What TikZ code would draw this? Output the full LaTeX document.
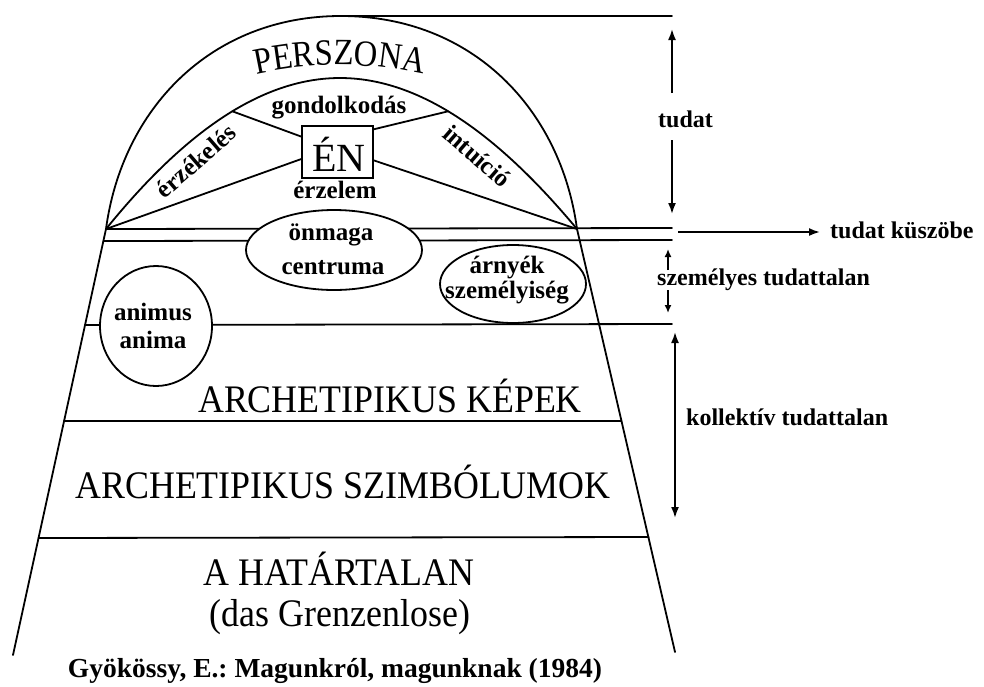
\documentclass[tikz,border=0pt]{standalone}
\usepackage{fontspec}
\setmainfont{Liberation Serif}
\newfontfamily\capfont[FakeStretch=0.92]{Liberation Serif}
\newfontfamily\perfont[FakeStretch=0.88]{Liberation Serif}
\usetikzlibrary{shapes.geometric,arrows.meta,decorations.text,calc}
\frenchspacing
\begin{document}
\begin{tikzpicture}[x=1pt,y=1pt,
  ln/.style={line width=1.8pt, line cap=round, line join=round},
  ell/.style={ellipse, draw, line width=1.8pt, fill=white, inner sep=0pt},
  lab/.style={font=\fontsize{25}{26}\selectfont\bfseries, inner sep=0pt},
  capt/.style={font=\capfont\fontsize{39}{42}\selectfont, inner sep=0pt, anchor=base},
  ann/.style={font=\fontsize{24}{26}\selectfont\bfseries, inner sep=0pt, anchor=base west},
  arr/.style={line width=1.8pt, -{Latex[length=11pt,width=8pt]}},
  sarr/.style={line width=1.8pt, -{Latex[length=8pt,width=7pt]}},
  darr/.style={line width=1.8pt, {Latex[length=11pt,width=8pt]}-{Latex[length=11pt,width=8pt]}}
]
\fill[white] (0,0) rectangle (984,-686);
\useasboundingbox (0,0) rectangle (984,-686);

% key points
\coordinate (L) at (106,-229);
\coordinate (R) at (577,-229);
\coordinate (BL) at (13,-655);
\coordinate (BR) at (675,-652);
\coordinate (apex) at (341,-16);
\coordinate (itop) at (340,-78);
\coordinate (topend) at (672,-16);

% outer arch and trapezoid sides
\draw[ln] (BL) -- (L) .. controls (122,-110) and (210,-16) .. (apex)
  .. controls (473,-16) and (561,-110) .. (R) -- (BR);
\draw[ln] (apex) -- (topend);

% inner arch
\draw[ln] (L) .. controls (170,-150) and (250,-78) .. (itop) coordinate[pos=0.58] (J1);
\draw[ln] (itop) .. controls (430,-78) and (511,-150) .. (R) coordinate[pos=0.42] (J2);

% EN box
\node[draw, line width=1.8pt, minimum width=71pt, minimum height=52pt, inner sep=0pt] (en) at (337.5,-152) {};
\node[font=\fontsize{40}{40}\selectfont, anchor=base, inner sep=0pt] (entext) at (339,-171) {ÉN};
\draw[ln] (J1) -- (en.157);
\draw[ln] (L) -- (en.191);
\draw[ln] (J2) -- (en.32);
\draw[ln] (R) -- (en.347);

% horizontal lines
\coordinate (h1e) at (672,-228);
\coordinate (h2s) at (103.4,-241); \coordinate (h2e) at (672,-240);
\coordinate (h3s) at (85,-325);    \coordinate (h3e) at (672,-324);
\coordinate (h4s) at (64.1,-421);  \coordinate (h4e) at (621.5,-421);
\coordinate (h5s) at (38.5,-538);  \coordinate (h5e) at (648.6,-537);
\draw[ln] (L) -- (h1e);
\draw[ln] (h2s) -- (h2e);
\draw[ln] (h3s) -- (h3e);
\draw[ln] (h4s) -- (h4e);
\draw[ln] (h5s) -- (h5e);

% ellipses
\node[ell, minimum width=176pt, minimum height=80pt] (onm) at (334,-250) {};
\node[lab, anchor=base] (onm1) at (331,-240) {önmaga};
\node[lab, anchor=base] (onm2) at (333,-274) {centruma};

\node[ell, minimum width=146pt, minimum height=78pt] (arny) at (513,-284) {};
\node[lab, anchor=base] (arny1) at (507,-273) {árnyék};
\node[lab, anchor=base] (arny2) at (507,-298) {személyiség};

\node[ell, minimum width=112pt, minimum height=120pt] (anim) at (156,-326) {};
\node[lab, anchor=base] (anim1) at (153,-320) {animus};
\node[lab, anchor=base] (anim2) at (153,-348) {anima};

% labels in the arch
\node[lab, anchor=base] (gond) at (339,-113) {gondolkodás};
\node[lab, anchor=base] (erzl) at (335,-198) {érzelem};
\node[lab, rotate=41] (erzk) at (196,-161) {érzékelés};
\node[lab, rotate=-41] (intu) at (477,-156) {intuíció};

% PERSZONA along arc
\path[decorate, decoration={text along path, text={|\perfont\fontsize{37}{37}\selectfont|PERSZONA}, text align=center}]
  (340,-449) ++(115:384) arc[start angle=115, end angle=65, radius=384];

% capitals
\node[capt] (c1) at (390,-412) {ARCHETIPIKUS KÉPEK};
\node[capt] (c2) at (343,-498) {ARCHETIPIKUS SZIMBÓLUMOK};
\node[capt] (c3) at (339,-585) {A HATÁRTALAN};
\node[capt] (c4) at (340,-626) {(das Grenzenlose)};
\node[font=\fontsize{27.5}{28}\selectfont\bfseries, anchor=base, inner sep=0pt] (cit) at (335,-677) {Gyökössy, E.: Magunkról, magunknak (1984)};

% right annotations
\node[ann] (tudat) at (658,-127) {tudat};
\coordinate (ta1) at (672,-93);  \coordinate (ta1t) at (672,-29);
\coordinate (ta2) at (672,-140); \coordinate (ta2t) at (672,-214);
\draw[arr] (ta1) -- (ta1t);
\draw[arr] (ta2) -- (ta2t);

\node[ann] (kusz) at (830,-238) {tudat küszöbe};
\coordinate (ka) at (678,-232); \coordinate (kat) at (820,-232);
\draw[arr] (ka) -- (kat);

\node[ann] (szem) at (657,-285) {személyes tudattalan};
\coordinate (sa1) at (668,-270); \coordinate (sa1t) at (668,-249);
\coordinate (sa2) at (668,-290); \coordinate (sa2t) at (668,-313);
\draw[sarr] (sa1) -- (sa1t);
\draw[sarr] (sa2) -- (sa2t);

\node[ann] (koll) at (686,-425) {kollektív tudattalan};
\coordinate (kl1) at (675,-332); \coordinate (kl2) at (675,-518);
\draw[darr] (kl1) -- (kl2);
\end{tikzpicture}
\end{document}
